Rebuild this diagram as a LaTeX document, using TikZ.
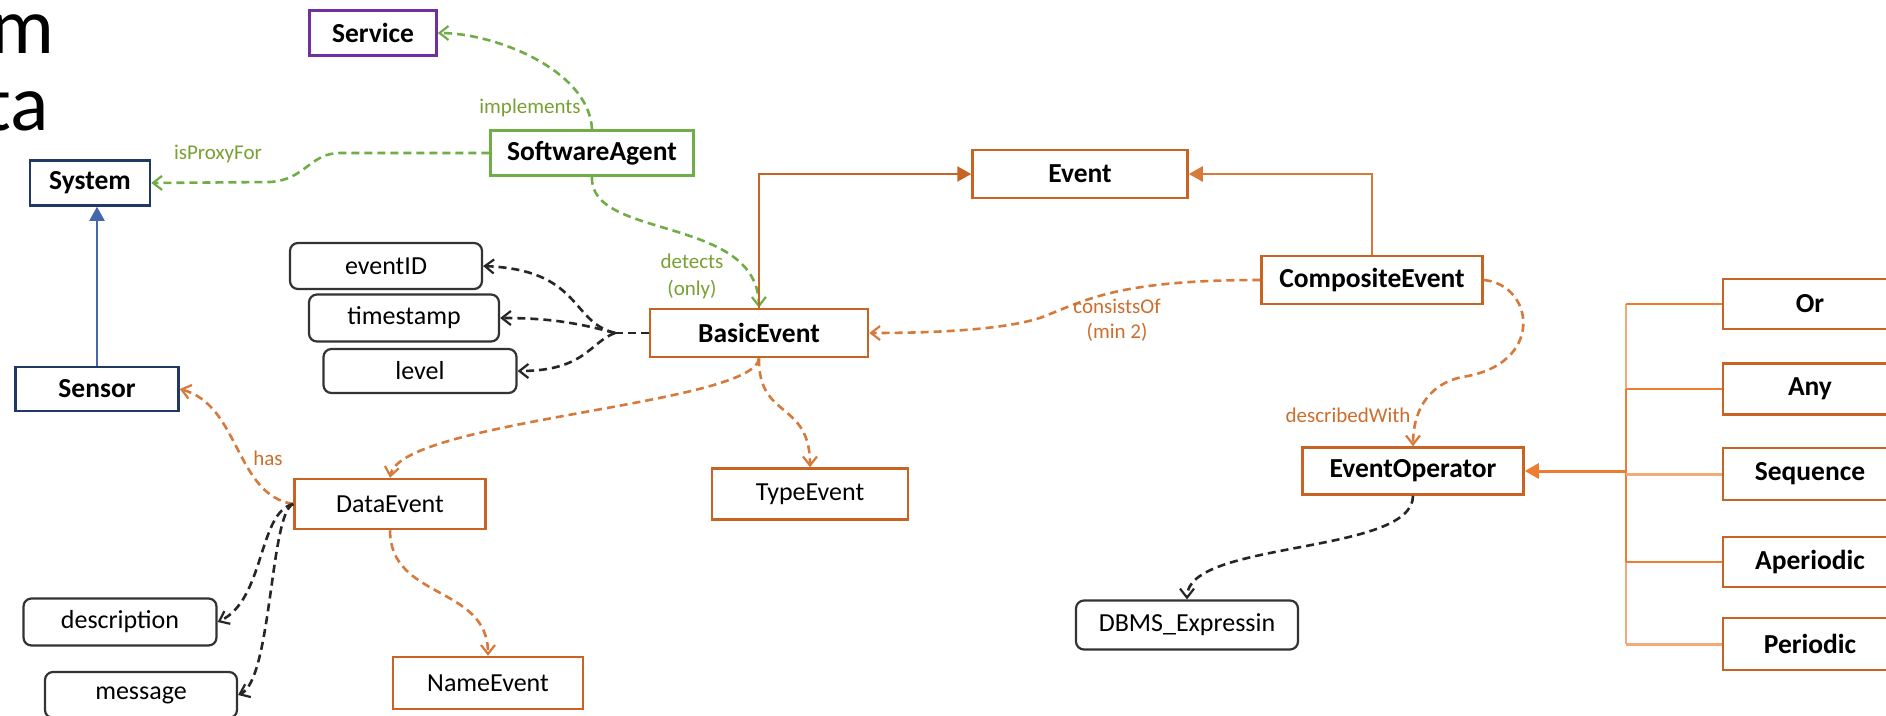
\documentclass[tikz,border=0pt]{standalone}
\usepackage{fontspec}
\setmainfont{Carlito}
\usetikzlibrary{arrows.meta}
\definecolor{orgbox}{RGB}{200,100,35}
\definecolor{orgline}{RGB}{214,122,60}
\definecolor{orgtext}{RGB}{205,110,45}
\definecolor{orglight}{RGB}{242,170,120}
\definecolor{orgbus}{RGB}{237,125,49}
\definecolor{grn}{RGB}{112,173,71}
\definecolor{grntext}{RGB}{120,160,50}
\definecolor{purp}{RGB}{112,48,160}
\definecolor{navy}{RGB}{32,56,100}
\definecolor{blu}{RGB}{68,104,170}
\begin{document}
\begin{tikzpicture}[x=1pt,y=-1pt,
  base/.style={inner sep=0pt, line width=2.5pt, fill=white, text=black},
  cls/.style={base, font=\fontsize{27.5}{33}\selectfont\bfseries},
  reg/.style={base, font=\fontsize{26}{31}\selectfont},
  attr/.style={base, draw=black!80, rounded corners=8pt, line width=2.2pt, font=\fontsize{26}{31}\selectfont},
  lbl/.style={inner sep=0pt, font=\fontsize{21}{25}\selectfont, align=center},
  dsh/.style={line width=2.6pt, dash pattern=on 8pt off 5pt},
  barb/.style={-{Straight Barb[length=9pt,width=14pt,line width=2.2pt]}},
  tri/.style={-{Triangle[length=14pt,width=15pt]}},
]
\useasboundingbox (0,0) rectangle (1886,715);
\fill[white] (0,0) rectangle (1886,715);

% slide title fragments
\node[anchor=base east, inner sep=0pt, font=\fontsize{80}{90}\selectfont] (tm) at (55,53) {m};
\node[anchor=base east, inner sep=0pt, font=\fontsize{80}{90}\selectfont] (tta) at (49,130) {ta};

% nodes
\node[cls, draw=purp, minimum width=127pt, minimum height=45pt] (service) at (373,33) {Service};
\node[cls, draw=grn, minimum width=203pt, minimum height=45pt] (agent) at (592,153) {SoftwareAgent};
\node[cls, draw=navy, minimum width=120pt, minimum height=45pt] (system) at (90,183) {System};
\node[cls, draw=orgbox, minimum width=215pt, minimum height=48pt] (event) at (1080,174) {Event};
\node[attr, minimum width=192pt, minimum height=46pt] (eventid) at (386,266) {eventID};
\node[attr, minimum width=190pt, minimum height=47pt] (timestamp) at (404,318) {timestamp};
\node[attr, minimum width=193pt, minimum height=44pt] (level) at (420,371) {level};
\node[cls, draw=orgbox, minimum width=218pt, minimum height=48pt] (basic) at (759,333) {BasicEvent};
\node[cls, draw=orgbox, minimum width=221pt, minimum height=48pt] (composite) at (1372,280) {CompositeEvent};
\node[cls, draw=navy, minimum width=163pt, minimum height=44pt] (sensor) at (97,389) {Sensor};
\node[reg, draw=orgbox, minimum width=191pt, minimum height=50pt] (data) at (390,504) {DataEvent};
\node[reg, draw=orgbox, minimum width=196pt, minimum height=51pt] (type) at (810,494) {TypeEvent};
\node[cls, draw=orgbox, minimum width=221pt, minimum height=47pt] (eventop) at (1413,471) {EventOperator};
\node[attr, minimum width=222pt, minimum height=49pt] (dbms) at (1187,625) {DBMS\_Expressin};
\node[attr, minimum width=193pt, minimum height=47pt] (description) at (120,622) {description};
\node[attr, minimum width=192pt, minimum height=46pt] (message) at (141,695) {message};
\node[reg, draw=orgbox, minimum width=190pt, minimum height=52pt] (name) at (488,683) {NameEvent};

\node[cls, draw=orgbox, minimum width=174pt, minimum height=50pt] (or) at (1810,304) {Or};
\node[cls, draw=orgbox, minimum width=174pt, minimum height=51pt] (any) at (1810,389) {Any};
\node[cls, draw=orgbox, minimum width=174pt, minimum height=52pt] (sequence) at (1810,474) {Sequence};
\node[cls, draw=orgbox, minimum width=174pt, minimum height=50pt] (aperiodic) at (1810,562) {Aperiodic};
\node[cls, draw=orgbox, minimum width=174pt, minimum height=52pt] (periodic) at (1810,644) {Periodic};

% green relations
\draw[grn, dsh, barb] (agent.north) .. controls (589,70) and (495,33) .. (service.east);
\draw[grn, dsh, barb] (agent.west) -- (340,153) .. controls (310,153) and (305,180) .. (270,182) -- (system.east);
\draw[grn, dsh, barb] (agent.south) .. controls (589,240) and (758,215) .. (basic.north);
\node[lbl, text=grntext] (limpl) at (530,108) {implements};
\node[lbl, text=grntext] (lproxy) at (218,154) {isProxyFor};
\node[lbl, text=grntext, font=\fontsize{21}{27}\selectfont] (ldetect) at (692,276) {detects\\(only)};

% subclass arrows
\draw[orgbox, line width=2.6pt, tri] (basic.north) |- (event.west);
\draw[orgline, line width=2.6pt, tri] (composite.north) |- (event.east);
\draw[blu, line width=2pt, tri] (sensor.north) -- (sensor.north |- system.south);

% orange dashed relations
\draw[orgline, dsh, barb] (composite.west) .. controls (1125,280) and (1090,298) .. (1050,314) .. controls (1020,328) and (950,333) .. (basic.east);
\node[lbl, text=orgtext] (lcons) at (1117,320) {consistsOf\\(min 2)};
\draw[orgline, dsh, barb] (composite.east) .. controls (1535,285) and (1545,365) .. (1462,377) .. controls (1425,385) and (1413,415) .. (eventop.north);
\node[lbl, text=orgtext] (ldescr) at (1348,415) {describedWith};
\draw[orgline, dsh, barb] (basic.south) .. controls (755,405) and (400,420) .. (data.north);
\draw[orgline, dsh, barb] (basic.south) .. controls (758,420) and (810,400) .. (type.north);
\draw[orgline, dsh, barb] (data.west) .. controls (235,495) and (240,405) .. (sensor.east);
\node[lbl, text=orgtext] (lhas) at (268,458) {has};
\draw[orgline, dsh, barb] (data.south) .. controls (390,600) and (488,585) .. (name.north);

% black attribute relations
\coordinate (bj) at (615,333);
\draw[black!85, dsh] (basic.west) -- (bj);
\draw[black!85, dsh, barb] (bj) .. controls (570,322) and (582,270) .. (eventid.east);
\draw[black!85, dsh, barb] (bj) .. controls (575,322) and (545,318) .. (timestamp.east);
\draw[black!85, dsh, barb] (bj) .. controls (590,342) and (585,371) .. (level.east);
\draw[black!85, dsh, barb] (data.west) .. controls (258,512) and (265,600) .. (description.east);
\draw[black!85, dsh, barb] (data.west) .. controls (270,512) and (272,680) .. (message.east);
\draw[black!85, dsh, barb] (eventop.south) .. controls (1413,555) and (1187,540) .. (dbms.north);

% operator bus
\coordinate (bOr) at (1626,304);
\coordinate (bAny) at (1626,389);
\coordinate (bSeq) at (1626,474);
\coordinate (bArr) at (1626,471);
\coordinate (bAp) at (1626,562);
\coordinate (bPer) at (1626,644);
\draw[orglight, line width=2.8pt] (bOr) -- (bAny);
\draw[orgbus, line width=2.8pt] (bAny) -- (bAp);
\draw[orglight, line width=2.8pt] (bAp) -- (bPer);
\draw[orgbus, line width=2.5pt] (bOr) -- (or.west);
\draw[orgbus, line width=2.5pt] (bAny) -- (any.west);
\draw[orglight, line width=3pt] (bSeq) -- (sequence.west);
\draw[orgbus, line width=2.5pt] (bAp) -- (aperiodic.west);
\draw[orglight, line width=3pt] (bPer) -- (periodic.west);
\draw[orgbus, line width=3pt, tri] (bArr) -- (eventop.east);
\end{tikzpicture}
\end{document}
